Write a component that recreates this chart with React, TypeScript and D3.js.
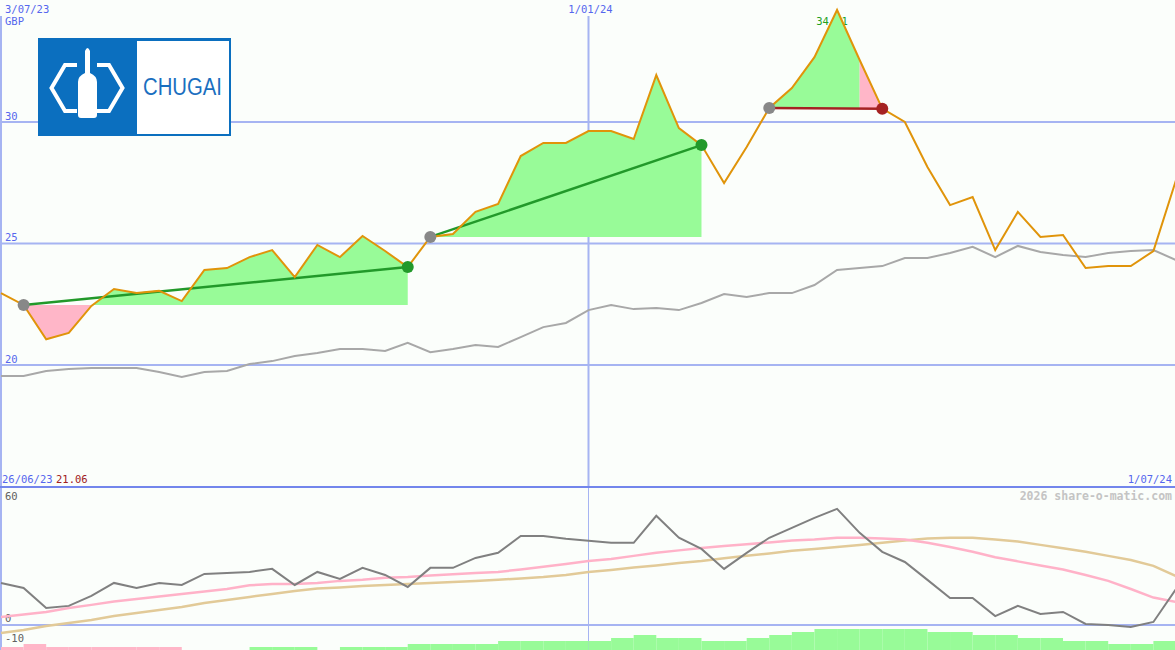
import React from 'react';
import * as d3 from 'd3';

const W = 1175;
const H = 650;

// weekly dates (Mondays) 3 Jul 2023 .. 1 Jul 2024
const dates: Date[] = d3.utcMonday.range(new Date(Date.UTC(2023, 6, 3)), new Date(Date.UTC(2024, 6, 2)));

// share price (GBP)
const price = [
  22.96, 22.47, 21.06, 21.32, 22.43, 23.13, 22.96, 23.05, 22.63, 23.91,
  23.99, 24.44, 24.73, 23.62, 24.94, 24.44, 25.31, 24.69, 24.03, 25.27,
  25.39, 26.30, 26.63, 28.60, 29.14, 29.14, 29.63, 29.63, 29.30, 31.93,
  29.75, 29.05, 27.49, 28.97, 30.58, 31.40, 32.67, 34.61, 32.55, 30.55,
  30.00, 28.15, 26.58, 26.91, 24.73, 26.30, 25.27, 25.35, 23.99, 24.07,
  24.07, 24.69, 27.61,
];

// relative / index line (grey)
const relative = [
  19.55, 19.55, 19.75, 19.84, 19.88, 19.88, 19.88, 19.71, 19.51, 19.71,
  19.75, 20.04, 20.16, 20.37, 20.49, 20.66, 20.66, 20.58, 20.91, 20.53,
  20.66, 20.82, 20.74, 21.15, 21.56, 21.73, 22.26, 22.47, 22.30, 22.35,
  22.26, 22.55, 22.92, 22.80, 22.96, 22.96, 23.29, 23.91, 23.99, 24.07,
  24.40, 24.40, 24.61, 24.86, 24.44, 24.90, 24.65, 24.53, 24.44, 24.61,
  24.69, 24.73, 24.32,
];

// oscillator (dark grey)
const oscillator = [
  20.7, 18.2, 8.4, 9.4, 14.3, 20.7, 18.2, 20.7, 19.7, 25.1,
  25.6, 26.1, 27.6, 19.7, 26.1, 22.7, 28.1, 24.6, 18.7, 28.1,
  28.1, 33.0, 35.5, 43.8, 43.8, 42.4, 41.4, 40.4, 40.4, 53.7,
  42.9, 37.4, 27.6, 35.5, 42.9, 47.8, 52.7, 57.1, 45.3, 36.0,
  31.0, 22.2, 13.3, 13.3, 4.4, 9.4, 5.4, 6.4, 0.5, 0.0,
  -1.0, 1.5, 17.7,
];

// fast average (pink)
const fastAvg = [
  3.9, 5.2, 6.4, 8.4, 9.9, 11.6, 12.8, 14.0, 15.3, 16.5,
  17.7, 19.5, 20.2, 20.2, 20.7, 21.7, 22.2, 23.2, 23.6, 24.4,
  24.9, 25.6, 26.1, 27.3, 28.6, 30.0, 31.5, 32.5, 34.0, 35.5,
  36.7, 37.9, 38.9, 39.7, 40.6, 41.6, 42.1, 42.9, 42.9, 42.6,
  42.1, 40.4, 38.4, 36.0, 33.3, 31.3, 29.3, 27.3, 24.6, 21.7,
  17.7, 13.5, 11.3,
];

// slow average (tan)
const slowAvg = [
  -3.9, -2.5, -0.5, 1.0, 2.5, 4.4, 5.9, 7.4, 8.9, 10.8,
  12.3, 13.8, 15.3, 16.7, 18.0, 18.5, 19.2, 19.7, 20.2, 20.7,
  21.2, 21.7, 22.2, 22.9, 23.6, 24.6, 26.1, 27.1, 28.3, 29.3,
  30.5, 31.5, 32.8, 34.0, 35.2, 36.5, 37.4, 38.4, 39.4, 40.4,
  41.6, 42.6, 42.9, 42.9, 42.1, 41.1, 39.4, 37.7, 36.0, 34.0,
  32.0, 29.1, 24.1,
];

// weekly histogram (negative = pink, positive = green)
const histogram = [
  -1, -2, -1, -1, -1, -1, -1, -1, 0, 0,
  0, 1, 1, 1, 0, 1, 1, 1, 2, 2,
  2, 2, 3, 3, 3, 3, 3, 4, 5, 4,
  4, 3, 3, 4, 5, 6, 7, 7, 7, 7,
  7, 6, 6, 5, 5, 4, 4, 3, 3, 2,
  2, 3,
];

// trades: entry / exit week indices
const trades = [
  { entry: 1, exit: 18 },
  { entry: 19, exit: 31 },
  { entry: 34, exit: 39 },
];
// shaded zones (trade index, from, to, gain/loss)
const zones = [
  { trade: 0, from: 1, to: 4, gain: false },
  { trade: 0, from: 4, to: 18, gain: true },
  { trade: 1, from: 19, to: 31, gain: true },
  { trade: 2, from: 34, to: 38, gain: true },
  { trade: 2, from: 38, to: 39, gain: false },
];

const priceTicks = [20, 25, 30];
const monthLines = [
  { date: new Date(Date.UTC(2023, 6, 3)), label: '3/07/23' },
  { date: new Date(Date.UTC(2024, 0, 1)), label: '1/01/24' },
];
const oscTicks = [60, 0, -10];

const BLUE_TXT = '#5566ee';
const GRID = '#a6b4f2';
const FONT = '"DejaVu Sans Mono", monospace';
const GREEN_FILL = '#98fb98';
const PINK_FILL = '#ffb6c8';

export default function App() {
  const x = d3.scaleUtc().domain([new Date(Date.UTC(2023, 6, 3)), new Date(Date.UTC(2024, 6, 1))]).range([1, 1176]);
  const y = d3.scaleLinear().domain([20, 30]).range([365, 122]);
  const yo = d3.scaleLinear().domain([0, 60]).range([625, 503]);
  const yh = d3.scaleLinear().domain([0, 10]).range([650, 620]);

  const lineMain = (vals: number[]) =>
    d3.line<number>().x((_, i) => x(dates[i])).y((v) => y(v))(vals) || '';
  const lineOsc = (vals: number[]) =>
    d3.line<number>().x((_, i) => x(dates[i])).y((v) => yo(v))(vals) || '';

  const zonePaths = zones.map((z) => {
    const base = price[trades[z.trade].entry];
    const idx = d3.range(z.from, z.to + 1);
    const area = d3
      .area<number>()
      .x((i) => x(dates[i]))
      .y0(y(base))
      .y1((i) => y(price[i]));
    return { d: area(idx) || '', fill: z.gain ? GREEN_FILL : PINK_FILL };
  });

  const maxIdx = price.indexOf(d3.max(price) as number);
  const minVal = d3.min(price) as number;

  return (
    <svg
      width={W}
      height={H}
      style={{ position: 'absolute', left: 0, top: 0, background: '#fbfefb', display: 'block' }}
      fontFamily={FONT}
    >
      {/* grid */}
      {priceTicks.map((t) => (
        <line key={t} x1={0} x2={W} y1={y(t)} y2={y(t)} stroke={GRID} strokeWidth={2} />
      ))}
      {monthLines.map((m, i) => (
        <g key={i}>
          <line x1={x(m.date)} x2={x(m.date)} y1={16} y2={487} stroke={GRID} strokeWidth={2} />
          <line x1={x(m.date)} x2={x(m.date)} y1={487} y2={H} stroke={GRID} strokeWidth={i === 0 ? 2 : 1} />
        </g>
      ))}
      <line x1={0} x2={W} y1={yo(0)} y2={yo(0)} stroke={GRID} strokeWidth={2} />
      <line x1={0} x2={W} y1={487} y2={487} stroke="#7386ec" strokeWidth={2} />

      {/* histogram */}
      {histogram.map((v, i) =>
        v === 0 ? null : (
          <rect
            key={i}
            x={x(dates[i])}
            width={x(dates[i + 1]) - x(dates[i])}
            y={yh(Math.abs(v))}
            height={yh(0) - yh(Math.abs(v))}
            fill={v < 0 ? PINK_FILL : GREEN_FILL}
          />
        )
      )}

      {/* labels */}
      {monthLines.map((m, i) => (
        <text
          key={i}
          x={i === 0 ? 5 : x(m.date) + 2}
          y={12.5}
          fontSize={10.5}
          fill={BLUE_TXT}
          textAnchor={i === 0 ? 'start' : 'middle'}
        >
          {m.label}
        </text>
      ))}
      <text x={5} y={25} fontSize={10.5} fill={BLUE_TXT}>GBP</text>
      {priceTicks.map((t) => (
        <text key={t} x={5} y={y(t) - 2.5} fontSize={10.5} fill={BLUE_TXT}>{t}</text>
      ))}
      <text x={x(dates[maxIdx]) - 5} y={25} fontSize={10.5} fill="#22a022" textAnchor="middle">
        {d3.format('.2f')(price[maxIdx])}
      </text>
      <text x={2} y={483} fontSize={10.5} fill={BLUE_TXT}>26/06/23</text>
      <text x={56} y={483} fontSize={10.5} fill="#a02020">{d3.format('.2f')(minVal)}</text>
      <text x={1172} y={483} fontSize={10.5} fill={BLUE_TXT} textAnchor="end">1/07/24</text>
      <text x={1172} y={500} fontSize={11.5} fontWeight="bold" fill="#c4c4c4" textAnchor="end">
        2026 share-o-matic.com
      </text>
      {oscTicks.map((t) => (
        <text key={t} x={5} y={yo(t) - 3} fontSize={10.5} fill="#606060">{t}</text>
      ))}

      {/* trade zones */}
      {zonePaths.map((z, i) => (
        <path key={i} d={z.d} fill={z.fill} stroke="none" />
      ))}

      {/* relative line */}
      <path d={lineMain(relative)} fill="none" stroke="#a8a8a8" strokeWidth={2} />

      {/* trade lines */}
      {trades.map((t, i) => {
        const win = price[t.exit] >= price[t.entry];
        return (
          <line
            key={i}
            x1={x(dates[t.entry])}
            y1={y(price[t.entry])}
            x2={x(dates[t.exit])}
            y2={y(price[t.exit])}
            stroke={win ? '#22992a' : '#a52222'}
            strokeWidth={2.5}
          />
        );
      })}

      {/* price line */}
      <path d={lineMain(price)} fill="none" stroke="#e0940a" strokeWidth={2} />

      {/* trade markers */}
      {trades.map((t, i) => {
        const win = price[t.exit] >= price[t.entry];
        return (
          <g key={i}>
            <circle cx={x(dates[t.entry])} cy={y(price[t.entry])} r={6} fill="#888888" />
            <circle cx={x(dates[t.exit])} cy={y(price[t.exit])} r={6} fill={win ? '#22992a' : '#a52222'} />
          </g>
        );
      })}

      {/* oscillator */}
      <path d={lineOsc(slowAvg)} fill="none" stroke="#e2ca98" strokeWidth={2.5} />
      <path d={lineOsc(fastAvg)} fill="none" stroke="#ffb2c8" strokeWidth={2.5} />
      <path d={lineOsc(oscillator)} fill="none" stroke="#808080" strokeWidth={2} />

      {/* logo */}
      <g>
        <rect x={38} y={38} width={193} height={98} fill="#0b6fbf" />
        <rect x={137} y={41} width={92} height={93} fill="#ffffff" />
        <text
          x={143}
          y={95}
          fontFamily="'Liberation Sans', Arial, sans-serif"
          fontSize={23}
          fill="#1a6fc0"
          textLength={79}
          lengthAdjust="spacingAndGlyphs"
        >
          CHUGAI
        </text>
        <polyline points="77,65 65,65 51.5,88 65,111 77,111" fill="none" stroke="#fff" strokeWidth={4} />
        <polyline points="97,65 109,65 122.5,88 109,111 97,111" fill="none" stroke="#fff" strokeWidth={4} />
        <path
          d="M78,115 L78,82 Q78,76 85,73 L85,51 Q87.5,45 90,51 L90,73 Q97,76 97,82 L97,115 Q97,118 94,118 L81,118 Q78,118 78,115 Z"
          fill="#fff"
        />
      </g>
    </svg>
  );
}
